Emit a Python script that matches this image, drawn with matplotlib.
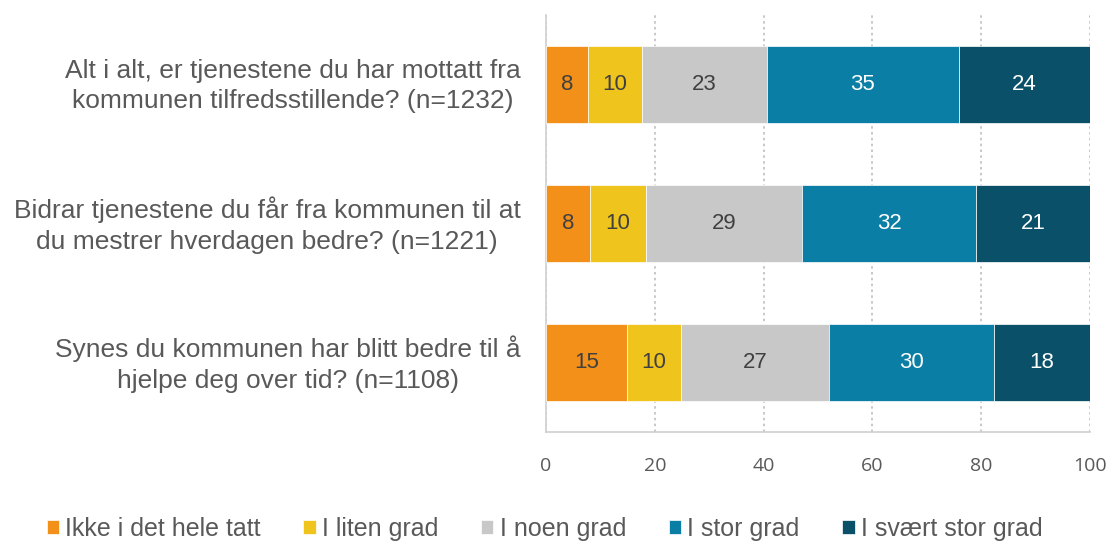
import numpy as np
import matplotlib.pyplot as plt
import matplotlib.transforms as mtransforms

plt.rcParams['font.family'] = ['Liberation Sans', 'DejaVu Sans']

# spørsmål og svarfordeling (prosent)
questions = [
    "Alt i alt, er tjenestene du har mottatt fra\nkommunen tilfredsstillende? (n=1232)",
    "Bidrar tjenestene du får fra kommunen til at\ndu mestrer hverdagen bedre? (n=1221)",
    "Synes du kommunen har blitt bedre til å\nhjelpe deg over tid? (n=1108)",
]
categories = ["Ikke i det hele tatt", "I liten grad", "I noen grad", "I stor grad", "I svært stor grad"]
ikke = [7.7, 8.1, 14.9]
liten = [9.9, 10.3, 9.9]
noen = [23.0, 28.6, 27.2]
stor = [35.3, 32.1, 30.4]
svaert = [24.1, 20.9, 17.6]

colors = ["#F39019", "#EFC41C", "#C8C8C8", "#0A7EA4", "#0B5069"]
text_colors = ["#404040", "#404040", "#404040", "white", "white"]

fig = plt.figure(figsize=(11.09, 5.41), dpi=100)
ax = fig.add_axes([0.4923, 0.2015, 0.4906, 0.7708])

y = np.arange(len(questions))
left = np.zeros(len(questions))
for vals, cat, col, tcol in zip([ikke, liten, noen, stor, svaert], categories, colors, text_colors):
    vals = np.array(vals)
    bars = ax.barh(y, vals, left=left, height=0.55, color=col, label=cat,
                   edgecolor="white", linewidth=0.5, zorder=3)
    ax.bar_label(bars, labels=["%.0f" % v for v in vals], label_type="center",
                 color=tcol, fontsize=16)
    left += vals

ax.set_xlim(0, 100)
ax.set_ylim(2.5, -0.5)
ax.set_xticks([0, 20, 40, 60, 80, 100])
ax.set_yticks(y)
ax.set_yticklabels([])
ax.tick_params(axis="y", length=0)
ax.tick_params(axis="x", length=0, pad=18, labelsize=14, labelcolor="#595959")
for lbl in ax.get_xticklabels():
    lbl.set_fontfamily("Open Sans")

# spørsmålstekst til venstre (sentrert)
trans = mtransforms.blended_transform_factory(fig.transFigure, ax.transData)
label_x = [293, 267, 288]
for yi, q, lx in zip(y, questions, label_x):
    ax.text(lx / 1109, yi + 0.01, q, transform=trans, ha="center", va="center",
            fontsize=19, color="#595959", linespacing=1.35)

ax.grid(axis="x", linestyle=(0, (1.5, 2)), color="#BFBFBF", linewidth=1.2, zorder=0)
for s in ["top", "right"]:
    ax.spines[s].set_visible(False)
for s in ["left", "bottom"]:
    ax.spines[s].set_color("#D0D0D0")
    ax.spines[s].set_linewidth(1.2)

fig.legend(loc="center", bbox_to_anchor=(0.491, 1 - 529 / 541), ncol=5, frameon=False,
           fontsize=18, handlelength=0.5, handleheight=0.5, handletextpad=0.25,
           columnspacing=1.7, labelcolor="#595959")

plt.savefig("out.png", dpi=100)
